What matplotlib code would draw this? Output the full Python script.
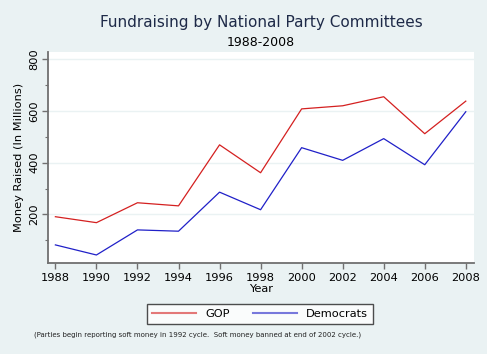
import matplotlib
matplotlib.use("Agg")
import matplotlib.pyplot as plt
from matplotlib.ticker import MultipleLocator

years = [1988, 1990, 1992, 1994, 1996, 1998, 2000, 2002, 2004, 2006, 2008]
gop = [191, 168, 245, 233, 469, 361, 608, 620, 655, 512, 638]
dem = [82, 43, 140, 135, 286, 218, 458, 409, 493, 392, 597]
yticks = [200, 400, 600, 800]

bg = "#EAF2F3"
fig = plt.figure(figsize=(4.87, 3.54), dpi=100, facecolor=bg)
ax = fig.add_axes([48/487, 1-263/354, (474-48)/487, (263-52)/354])
ax.set_facecolor("white")

ax.plot(years, gop, color="#D42020", lw=0.9, label="GOP")
ax.plot(years, dem, color="#2020C8", lw=0.9, label="Democrats")

ax.set_xlim(1987.64, 2008.4)
ax.set_ylim(12, 828)
ax.set_xticks(years)
ax.set_yticks(yticks)
ax.yaxis.set_minor_locator(MultipleLocator(100))
ax.grid(axis="y", which="major", color=bg, lw=1.0)
ax.set_axisbelow(True)

for s in ["top", "right"]:
    ax.spines[s].set_visible(False)
for s in ["left", "bottom"]:
    ax.spines[s].set_color("#707070")
    ax.spines[s].set_linewidth(1.3)

ax.tick_params(axis="x", which="major", length=4, width=1.0, color="#707070",
               labelsize=8.2, pad=3)
ax.tick_params(axis="y", which="major", length=4, width=1.0, color="#707070",
               labelsize=8.2, pad=2)
ax.tick_params(axis="y", which="minor", length=2, width=0.8, color="#707070")
for lab in ax.get_yticklabels():
    lab.set_rotation(90)
    lab.set_va("center")

ax.set_xlabel("Year", fontsize=8.2, labelpad=0.8)
ax.set_ylabel("Money Raised (In Millions)", fontsize=8.2, labelpad=4)

cx = 261/487
fig.text(cx, 1-22/354, "Fundraising by National Party Committees", ha="center", va="center",
         fontsize=11, color="#1E2A48")
fig.text(cx, 1-42/354, "1988-2008", ha="center", va="center", fontsize=9, color="black")

leg = fig.legend(loc="center", bbox_to_anchor=(260/487, 1-314/354), ncol=2, fontsize=8.2,
                 frameon=True, fancybox=False, edgecolor="#222222", handlelength=3.9,
                 columnspacing=2.0, borderpad=0.4, handletextpad=0.8, borderaxespad=0)
leg.get_frame().set_linewidth(1.0)
for h in leg.get_lines():
    h.set_alpha(0.6)
    h.set_linewidth(1.5)

fig.text(34/487, 1-335/354,
         "(Parties begin reporting soft money in 1992 cycle.  Soft money banned at end of 2002 cycle.)",
         ha="left", va="center", fontsize=5.05, color="#222222")

fig.savefig("out.png", dpi=100, facecolor=bg)
